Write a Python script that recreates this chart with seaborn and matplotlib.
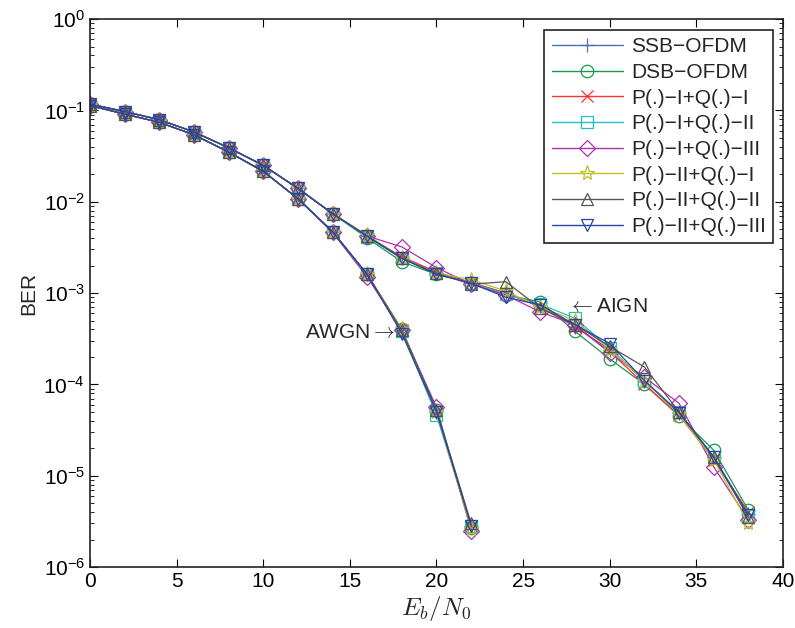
import numpy as np
import pandas as pd
import matplotlib
matplotlib.use("Agg")
import matplotlib.pyplot as plt
from matplotlib.lines import Line2D
import seaborn as sns

sns.set_theme(style="ticks")
plt.rcParams["font.family"] = ["Liberation Sans", "DejaVu Sans"]
plt.rcParams["mathtext.fontset"] = "cm"

series_names = ["SSB\u2212OFDM", "DSB\u2212OFDM", "P(.)\u2212I+Q(.)\u2212I", "P(.)\u2212I+Q(.)\u2212II",
                "P(.)\u2212I+Q(.)\u2212III", "P(.)\u2212II+Q(.)\u2212I", "P(.)\u2212II+Q(.)\u2212II",
                "P(.)\u2212II+Q(.)\u2212III"]
colors = ["#4a6fb5", "#1a9850", "#ff3030", "#20c0c0", "#b030b0", "#c0c020", "#555555", "#2545a5"]
markers = ["+", "o", "x", "s", "D", "*", "^", "v"]

snr_awgn = [0, 2, 4, 6, 8, 10, 12, 14, 16, 18, 20, 22]
snr_aign = [0, 2, 4, 6, 8, 10, 12, 14, 16, 18, 20, 22, 24, 26, 28, 30, 32, 34, 36, 38]

# AWGN curves
awgn_ssb = [0.113, 0.091, 0.074, 0.054, 0.035, 0.0215, 0.0108, 0.0047, 0.0016, 0.00039, 5.0e-5, 2.8e-6]
awgn_dsb = [0.113, 0.091, 0.074, 0.054, 0.035, 0.0215, 0.0108, 0.0047, 0.0016, 0.00040, 5.2e-5, 2.7e-6]
awgn_p1q1 = [0.113, 0.091, 0.074, 0.054, 0.035, 0.0215, 0.0108, 0.0047, 0.0016, 0.00039, 5.1e-5, 2.8e-6]
awgn_p1q2 = [0.113, 0.091, 0.074, 0.054, 0.035, 0.0215, 0.0108, 0.0047, 0.0016, 0.00038, 4.6e-5, 2.8e-6]
awgn_p1q3 = [0.113, 0.091, 0.074, 0.054, 0.035, 0.0215, 0.0108, 0.0046, 0.0015, 0.00039, 5.6e-5, 2.5e-6]
awgn_p2q1 = [0.113, 0.091, 0.074, 0.054, 0.035, 0.0215, 0.0108, 0.0047, 0.0016, 0.00040, 5.0e-5, 2.6e-6]
awgn_p2q2 = [0.113, 0.091, 0.074, 0.054, 0.035, 0.0215, 0.0108, 0.0047, 0.0016, 0.00039, 5.3e-5, 3.0e-6]
awgn_p2q3 = [0.113, 0.091, 0.074, 0.054, 0.035, 0.0215, 0.0108, 0.0047, 0.0016, 0.00036, 5.0e-5, 2.8e-6]

# AIGN curves
aign_ssb = [0.117, 0.097, 0.079, 0.058, 0.039, 0.0250, 0.0140, 0.0074, 0.0042, 0.0024, 0.00165, 0.00130,
            0.00100, 0.00072, 0.00043, 0.00024, 1.1e-4, 4.8e-5, 1.6e-5, 3.8e-6]
aign_dsb = [0.117, 0.097, 0.079, 0.058, 0.039, 0.0250, 0.0140, 0.0074, 0.0040, 0.0022, 0.00160, 0.00130,
            0.00095, 0.00080, 0.00038, 0.00019, 1.0e-4, 4.5e-5, 1.9e-5, 4.2e-6]
aign_p1q1 = [0.117, 0.097, 0.079, 0.058, 0.039, 0.0250, 0.0140, 0.0074, 0.0042, 0.0025, 0.00170, 0.00130,
             0.00100, 0.00070, 0.00043, 0.00023, 1.0e-4, 4.6e-5, 1.5e-5, 4.0e-6]
aign_p1q2 = [0.117, 0.097, 0.079, 0.058, 0.039, 0.0250, 0.0140, 0.0074, 0.0041, 0.0024, 0.00165, 0.00128,
             0.00098, 0.00075, 0.00053, 0.00025, 1.1e-4, 5.0e-5, 1.6e-5, 3.6e-6]
aign_p1q3 = [0.117, 0.097, 0.079, 0.058, 0.039, 0.0250, 0.0140, 0.0074, 0.0042, 0.0032, 0.00190, 0.00125,
             0.00095, 0.00062, 0.00045, 0.00022, 1.2e-4, 6.2e-5, 1.25e-5, 3.3e-6]
aign_p2q1 = [0.117, 0.097, 0.079, 0.058, 0.039, 0.0250, 0.0140, 0.0074, 0.0043, 0.0024, 0.00165, 0.00140,
             0.00105, 0.00070, 0.00050, 0.00024, 1.1e-4, 4.7e-5, 1.5e-5, 3.0e-6]
aign_p2q2 = [0.117, 0.097, 0.079, 0.058, 0.039, 0.0250, 0.0140, 0.0074, 0.0042, 0.0024, 0.00165, 0.00125,
             0.00133, 0.00068, 0.00045, 0.00026, 1.55e-4, 5.0e-5, 1.6e-5, 3.5e-6]
aign_p2q3 = [0.117, 0.097, 0.079, 0.058, 0.039, 0.0250, 0.0140, 0.0074, 0.0042, 0.0024, 0.00160, 0.00128,
             0.00090, 0.00074, 0.00045, 0.00028, 1.1e-4, 4.9e-5, 1.6e-5, 3.7e-6]

awgn_all = [awgn_ssb, awgn_dsb, awgn_p1q1, awgn_p1q2, awgn_p1q3, awgn_p2q1, awgn_p2q2, awgn_p2q3]
aign_all = [aign_ssb, aign_dsb, aign_p1q1, aign_p1q2, aign_p1q3, aign_p2q1, aign_p2q2, aign_p2q3]

rows = []
for name, aw, ai in zip(series_names, awgn_all, aign_all):
    for x, y in zip(snr_awgn, aw):
        rows.append({"series": name, "channel": "AWGN", "snr": x, "ber": y})
    for x, y in zip(snr_aign, ai):
        rows.append({"series": name, "channel": "AIGN", "snr": x, "ber": y})
df = pd.DataFrame(rows)

fig = plt.figure(figsize=(7.95, 6.28), dpi=100)
ax = fig.add_axes([0.1132, 0.0971, 0.8717, 0.8726])

handles = []
for name, c, m in zip(series_names, colors, markers):
    sub = df[df["series"] == name]
    ms = {"D": 8, "*": 11, "x": 8, "+": 10}.get(m, 9)
    for ch in ["AWGN", "AIGN"]:
        s2 = sub[sub["channel"] == ch]
        sns.lineplot(data=s2, x="snr", y="ber", ax=ax, color=c, marker=m,
                     markersize=ms, markerfacecolor="none", markeredgecolor=c,
                     markeredgewidth=0.9, linewidth=0.9, legend=False,
                     estimator=None, sort=False)
    handles.append(Line2D([], [], color=c, marker=m, markersize=ms,
                          markerfacecolor="none", markeredgecolor=c,
                          markeredgewidth=0.9, linewidth=1.0, label=name))

ax.set_yscale("log")
ax.set_xlim(0, 40)
ax.set_ylim(1e-6, 1)
ax.set_xticks(np.arange(0, 41, 5))
ax.set_yticks([1e-6, 1e-5, 1e-4, 1e-3, 1e-2, 1e-1, 1])
ax.tick_params(which="both", direction="in", top=True, right=True, labelsize=15, colors="black")
ax.tick_params(which="major", length=6, width=0.8)
ax.tick_params(which="minor", length=3, width=0.6)
for sp in ax.spines.values():
    sp.set_linewidth(1.2)
    sp.set_color("#222222")

ax.set_xlabel("$E_b/N_0$", fontsize=18, labelpad=2)
ax.set_ylabel("BER", fontsize=15, labelpad=4)

ax.text(17.6, 3.7e-4, "AWGN$\\rightarrow$", ha="right", va="center", fontsize=15)
ax.text(27.6, 7.1e-4, "$\\leftarrow$AIGN", ha="left", va="center", fontsize=15)

leg = ax.legend(handles=handles, loc="upper right", bbox_to_anchor=(0.9856, 0.98),
                borderaxespad=0, fontsize=15, handlelength=3.4, handletextpad=0.4,
                labelspacing=0.32, borderpad=0.35, fancybox=False, framealpha=1,
                edgecolor="#222222")
leg.get_frame().set_linewidth(1.2)

fig.savefig("out.png", dpi=100)
